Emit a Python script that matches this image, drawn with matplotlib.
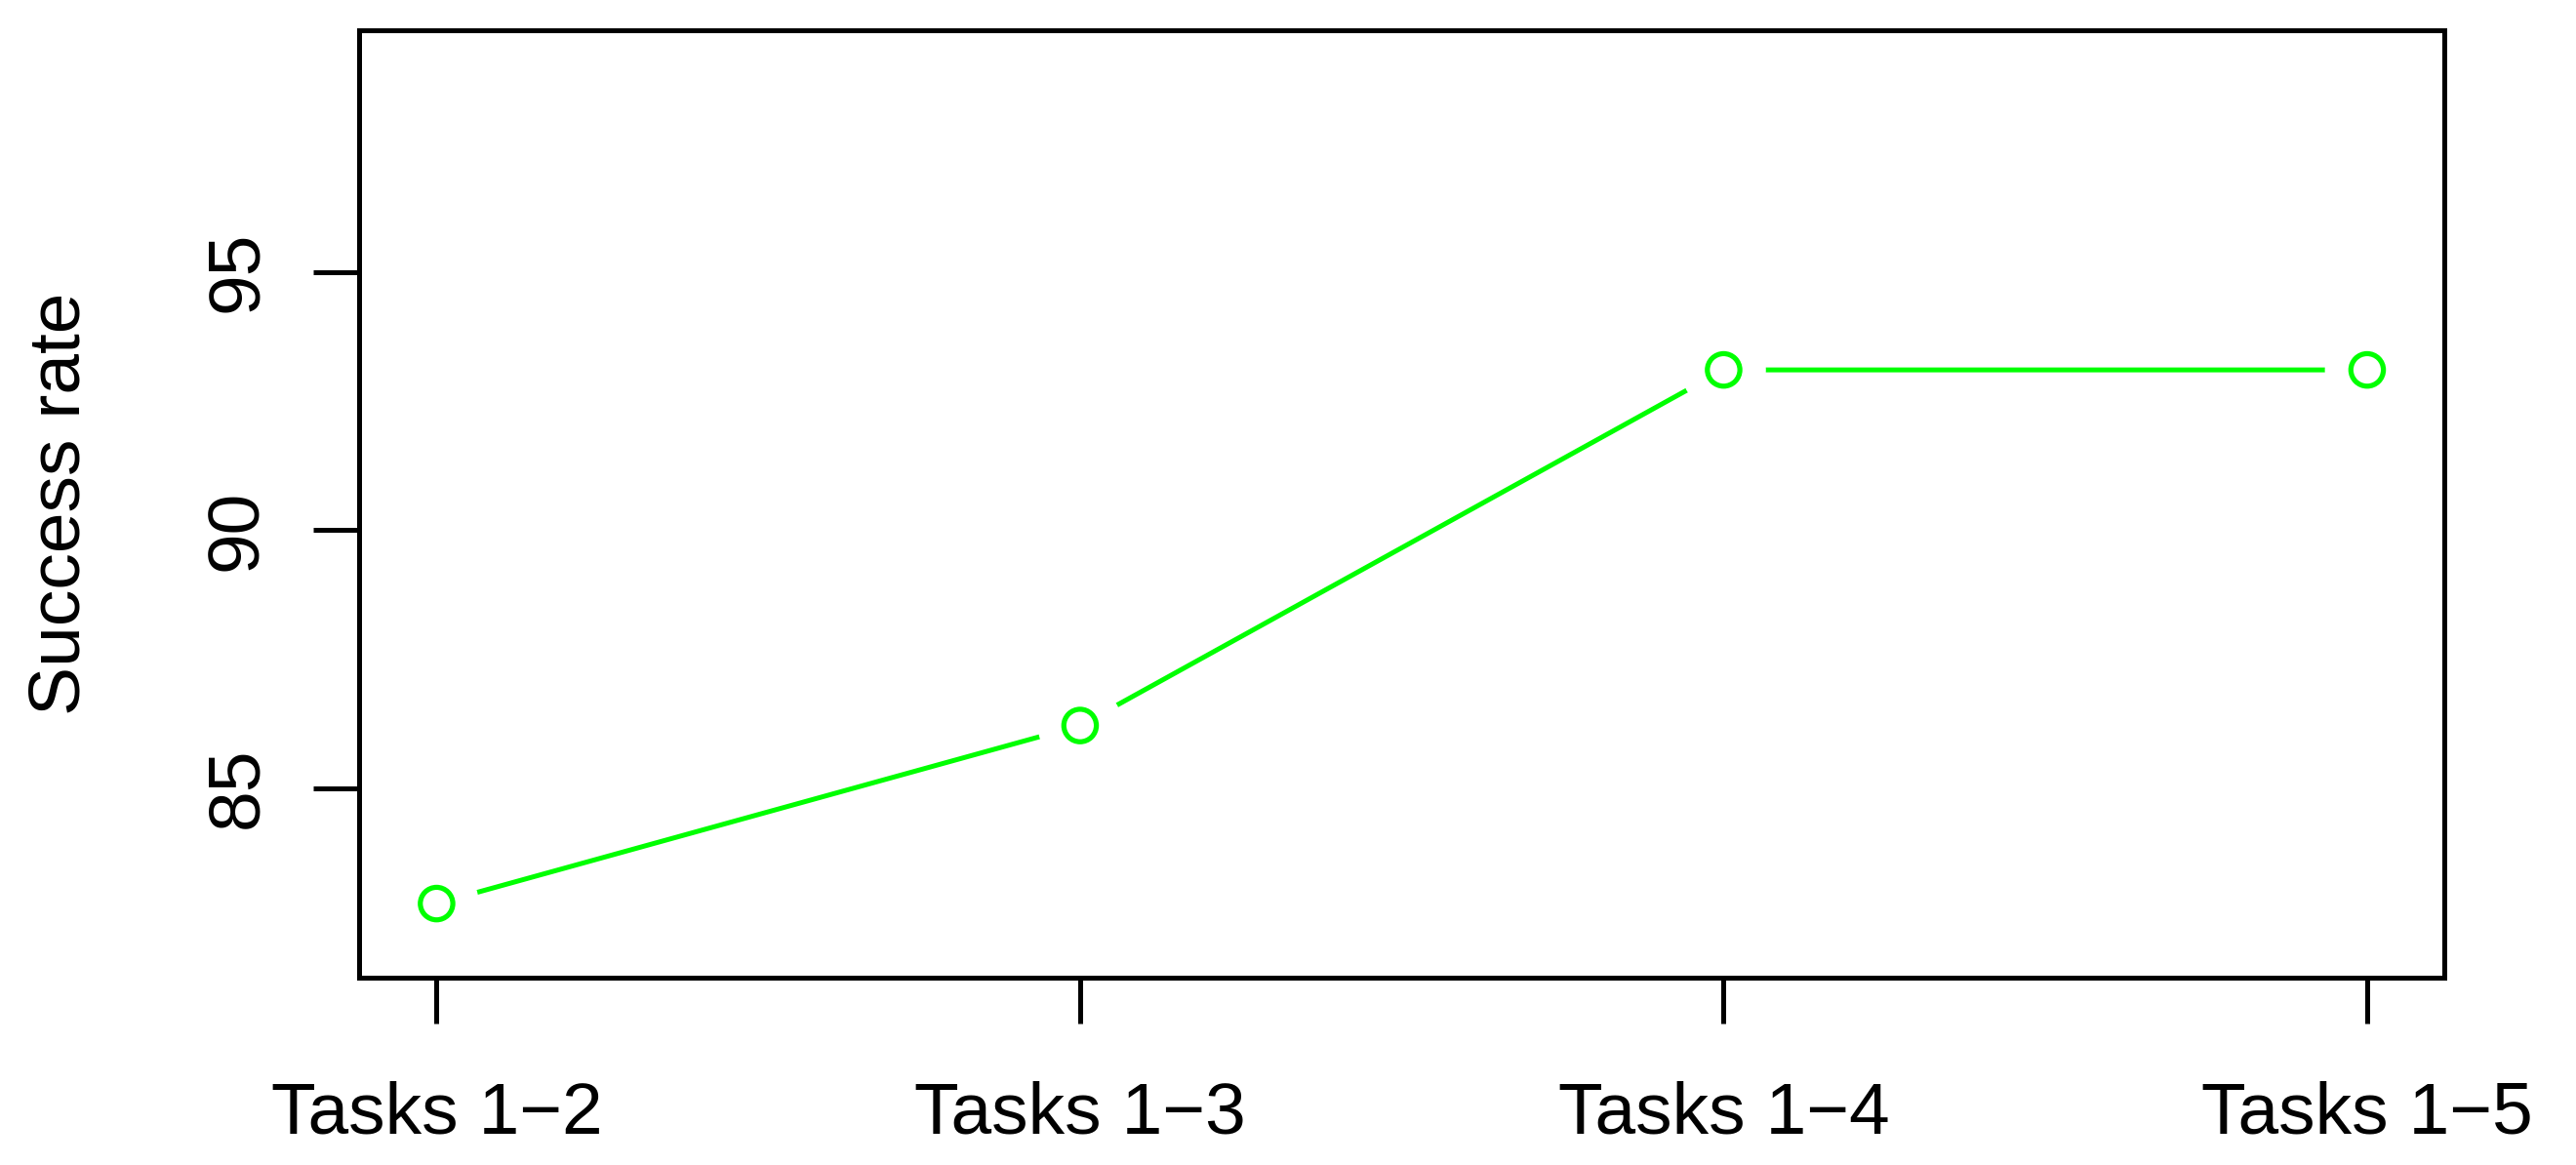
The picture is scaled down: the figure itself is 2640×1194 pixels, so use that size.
import matplotlib
matplotlib.use("Agg")
import matplotlib.pyplot as plt
import matplotlib.patheffects as pe

plt.rcParams["font.family"] = ["Liberation Sans", "DejaVu Sans"]

# data
tasks = ["Tasks 1\u22122", "Tasks 1\u22123", "Tasks 1\u22124", "Tasks 1\u22125"]
success_rate = [82.76, 86.21, 93.10, 93.10]
y_ticks = [85, 90, 95]

fig = plt.figure(figsize=(8.8, 3.98), dpi=300)
ax = fig.add_axes([0.1395, 0.1606, 0.9489 - 0.1395, 0.974 - 0.1606])

x = list(range(1, len(tasks) + 1))

# line first, then open circles with a white halo to give the R type="b" gaps
ax.plot(x, success_rate, color="#00ff00", lw=1.2, solid_capstyle="round", zorder=2)
ax.plot(x, success_rate, linestyle="none", marker="o", markersize=8.0,
        markerfacecolor="white", markeredgecolor="#00ff00", markeredgewidth=1.25,
        zorder=3, path_effects=[pe.withStroke(linewidth=12.8, foreground="white")])

ax.set_xlim(0.88, 4.12)
ax.set_ylim(81.32, 99.68)

ax.set_xticks(x)
ax.set_xticklabels(tasks, fontsize=18)
ax.set_yticks(y_ticks)
ax.set_yticklabels([str(v) for v in y_ticks], fontsize=18, rotation=90, va="center")

ax.tick_params(axis="x", direction="out", length=11.2, width=1.2, pad=14, color="black")
ax.tick_params(axis="y", direction="out", length=11.2, width=1.2, pad=10.5, color="black")

for s in ax.spines.values():
    s.set_linewidth(1.2)
    s.set_color("black")

ax.set_ylabel("Success rate", fontsize=18, labelpad=27)

fig.savefig("out.png", dpi=300, facecolor="white")
